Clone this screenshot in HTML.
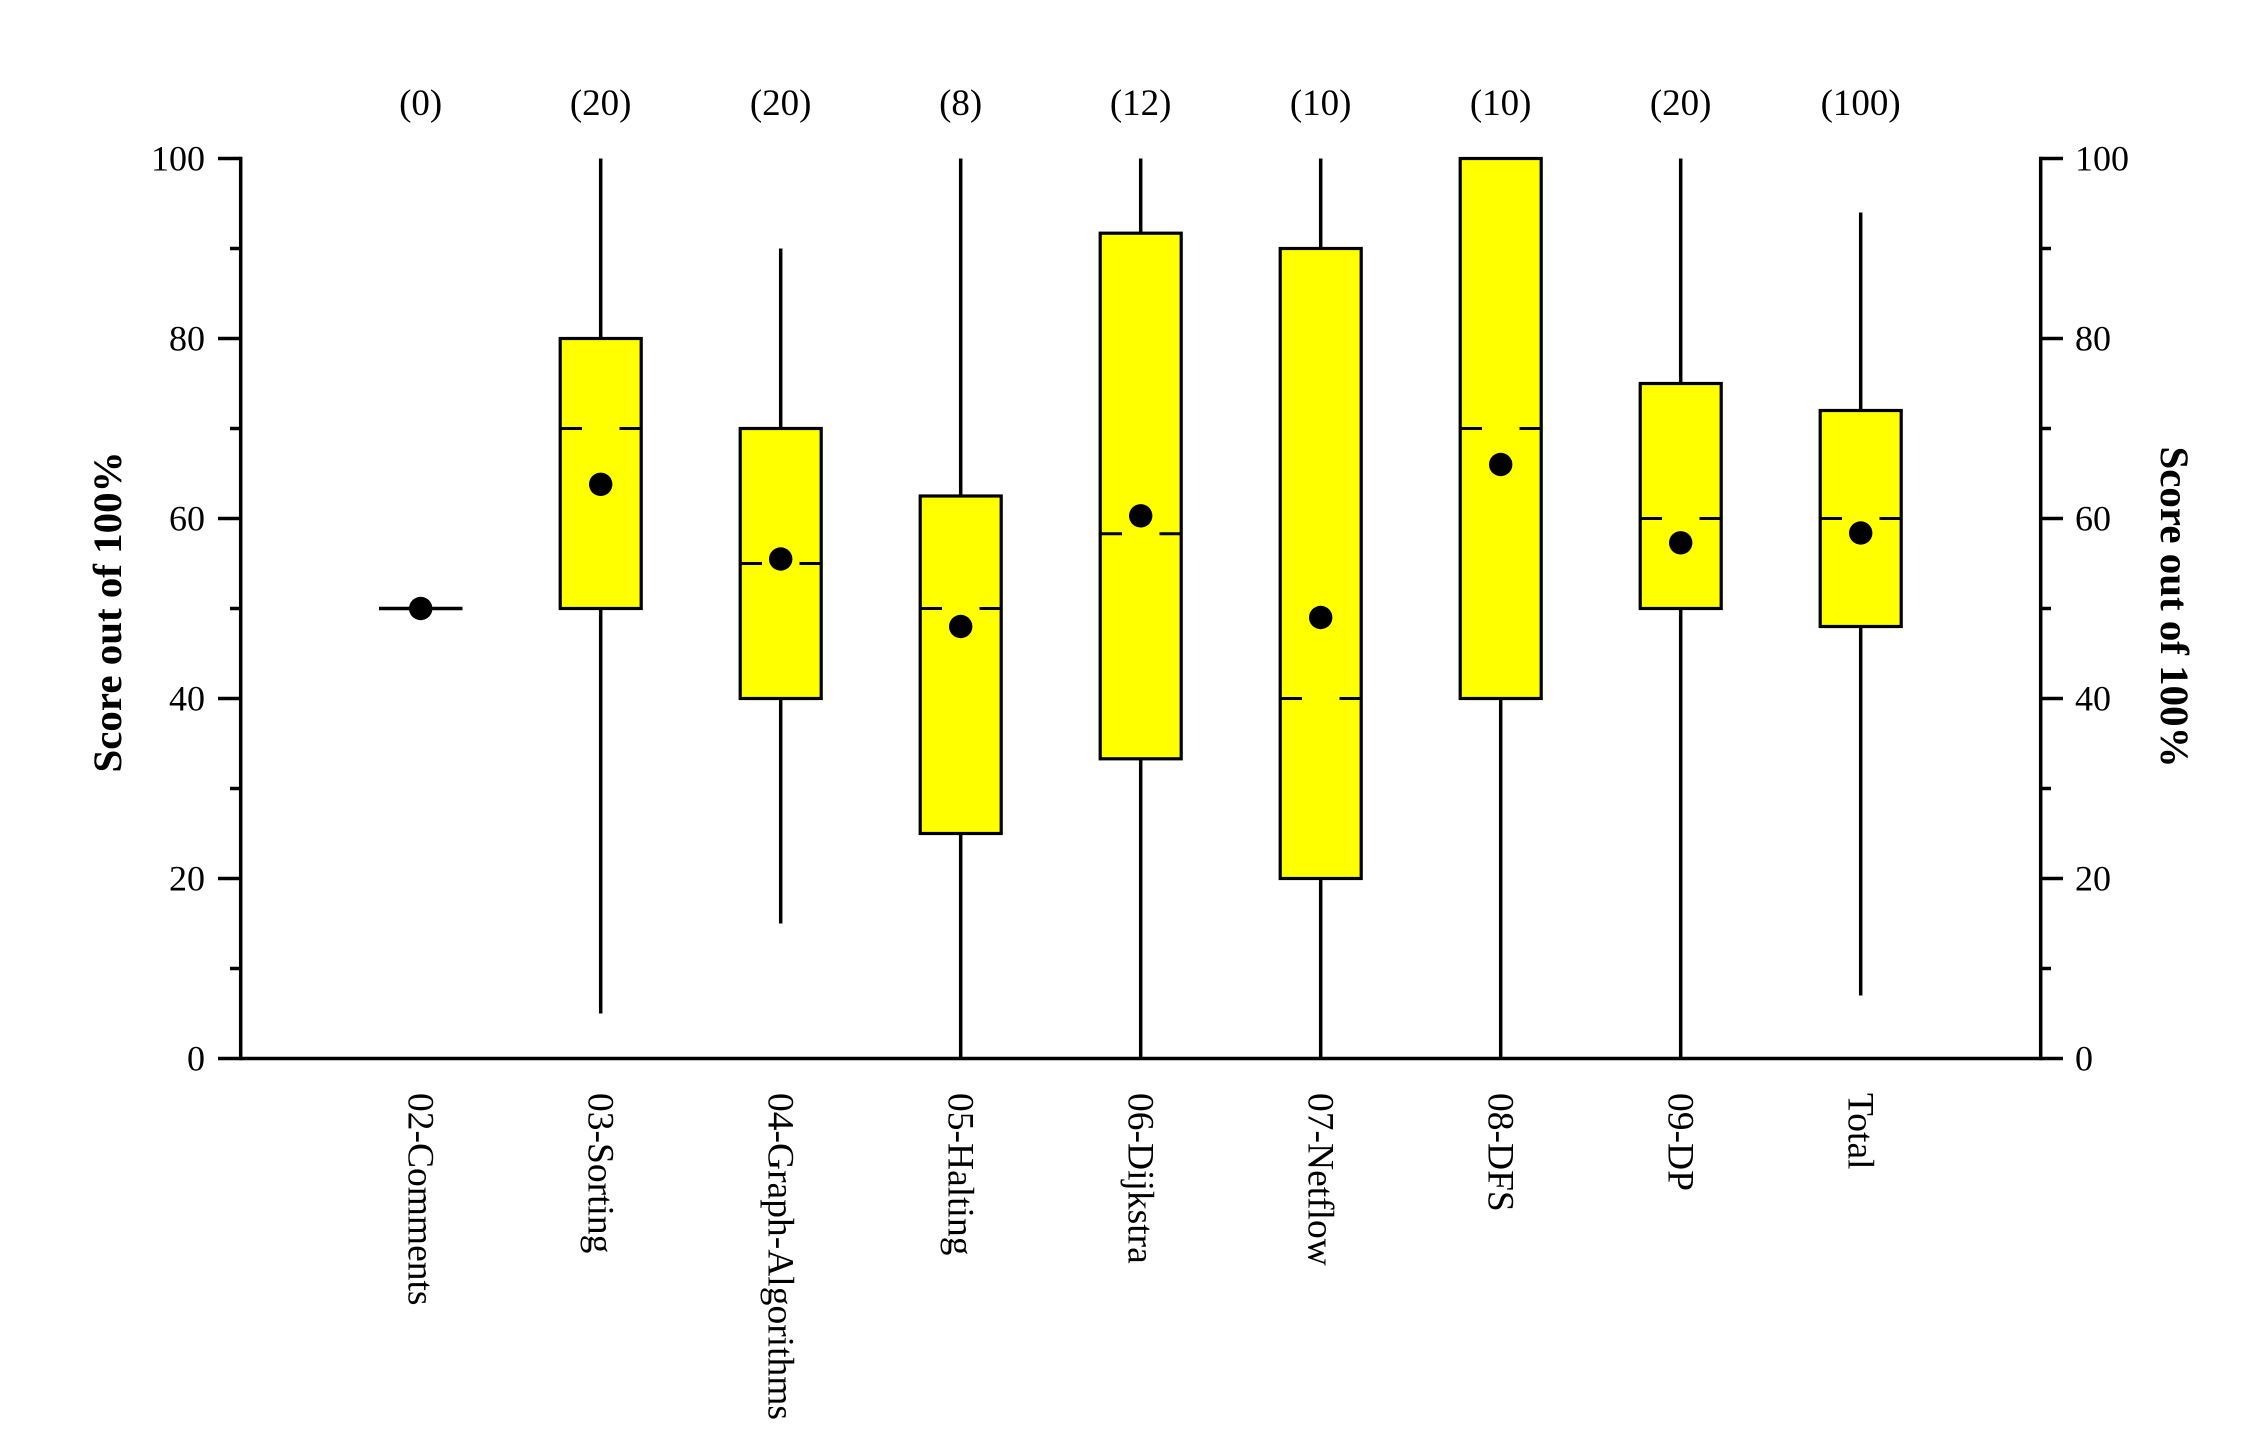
<!DOCTYPE html>
<html>
<head>
<meta charset="utf-8">
<style>
  html, body { margin:0; padding:0; background:#ffffff; }
  svg { display:block; }
  text { font-family: "Liberation Serif", "Times New Roman", serif; fill:#000; }
</style>
</head>
<body>
<svg width="2242" height="1444" viewBox="0 0 2242 1444" xmlns="http://www.w3.org/2000/svg">
  <rect x="0" y="0" width="2242" height="1444" fill="#ffffff"/>

  <!-- Axes -->
  <g stroke="#000" stroke-width="3.5" fill="none" stroke-linecap="butt">
    <line x1="240.7" y1="156.8" x2="240.7" y2="1060.2"/>
    <line x1="2040.7" y1="156.8" x2="2040.7" y2="1060.2"/>
    <line x1="218" y1="1058.5" x2="2063" y2="1058.5"/>
    <line x1="218" y1="158.5" x2="240.7" y2="158.5"/>
    <line x1="218" y1="338.5" x2="240.7" y2="338.5"/>
    <line x1="218" y1="518.5" x2="240.7" y2="518.5"/>
    <line x1="218" y1="698.5" x2="240.7" y2="698.5"/>
    <line x1="218" y1="878.5" x2="240.7" y2="878.5"/>
    <line x1="230" y1="248.5" x2="240.7" y2="248.5"/>
    <line x1="230" y1="428.5" x2="240.7" y2="428.5"/>
    <line x1="230" y1="608.5" x2="240.7" y2="608.5"/>
    <line x1="230" y1="788.5" x2="240.7" y2="788.5"/>
    <line x1="230" y1="968.5" x2="240.7" y2="968.5"/>
    <line x1="2040.7" y1="158.5" x2="2063" y2="158.5"/>
    <line x1="2040.7" y1="338.5" x2="2063" y2="338.5"/>
    <line x1="2040.7" y1="518.5" x2="2063" y2="518.5"/>
    <line x1="2040.7" y1="698.5" x2="2063" y2="698.5"/>
    <line x1="2040.7" y1="878.5" x2="2063" y2="878.5"/>
    <line x1="2040.7" y1="248.5" x2="2051" y2="248.5"/>
    <line x1="2040.7" y1="428.5" x2="2051" y2="428.5"/>
    <line x1="2040.7" y1="608.5" x2="2051" y2="608.5"/>
    <line x1="2040.7" y1="788.5" x2="2051" y2="788.5"/>
    <line x1="2040.7" y1="968.5" x2="2051" y2="968.5"/>
  </g>

  <!-- Left tick labels -->
  <g font-size="36" text-anchor="end">
    <text x="205" y="170.5">100</text>
    <text x="205" y="350.5">80</text>
    <text x="205" y="530.5">60</text>
    <text x="205" y="710.5">40</text>
    <text x="205" y="890.5">20</text>
    <text x="205" y="1070.5">0</text>
  </g>
  <!-- Right tick labels -->
  <g font-size="36" text-anchor="start">
    <text x="2075" y="170.5">100</text>
    <text x="2075" y="350.5">80</text>
    <text x="2075" y="530.5">60</text>
    <text x="2075" y="710.5">40</text>
    <text x="2075" y="890.5">20</text>
    <text x="2075" y="1070.5">0</text>
  </g>

  <!-- Axis titles -->
  <text transform="translate(121,612) rotate(-90)" font-size="40" font-weight="bold" text-anchor="middle" textLength="321" lengthAdjust="spacingAndGlyphs">Score out of 100%</text>
  <text transform="translate(2161,607) rotate(90)" font-size="40" font-weight="bold" text-anchor="middle" textLength="321" lengthAdjust="spacingAndGlyphs">Score out of 100%</text>

  <!-- Top count labels -->
  <g font-size="37" text-anchor="middle">
    <text x="420.7" y="115">(0)</text>
    <text x="600.7" y="115">(20)</text>
    <text x="780.7" y="115">(20)</text>
    <text x="960.7" y="115">(8)</text>
    <text x="1140.7" y="115">(12)</text>
    <text x="1320.7" y="115">(10)</text>
    <text x="1500.7" y="115">(10)</text>
    <text x="1680.7" y="115">(20)</text>
    <text x="1860.7" y="115">(100)</text>
  </g>

  <!-- Category labels (rotated) -->
  <g font-size="37.5" text-anchor="start">
    <text transform="translate(408.5,1093) rotate(90)">02-Comments</text>
    <text transform="translate(588.5,1093) rotate(90)">03-Sorting</text>
    <text transform="translate(768.5,1093) rotate(90)">04-Graph-Algorithms</text>
    <text transform="translate(948.5,1093) rotate(90)">05-Halting</text>
    <text transform="translate(1128.5,1093) rotate(90)">06-Dijkstra</text>
    <text transform="translate(1308.5,1093) rotate(90)">07-Netflow</text>
    <text transform="translate(1488.5,1093) rotate(90)">08-DFS</text>
    <text transform="translate(1668.5,1093) rotate(90)">09-DP</text>
    <text transform="translate(1848.5,1093) rotate(90)">Total</text>
  </g>

  <!-- Whiskers -->
  <g stroke="#000" stroke-width="3.5">
    <line x1="600.7" y1="1013.5" x2="600.7" y2="608.5"/>
    <line x1="600.7" y1="338.5" x2="600.7" y2="158.5"/>
    <line x1="780.7" y1="923.5" x2="780.7" y2="698.5"/>
    <line x1="780.7" y1="428.5" x2="780.7" y2="248.5"/>
    <line x1="960.7" y1="1058.5" x2="960.7" y2="833.5"/>
    <line x1="960.7" y1="496" x2="960.7" y2="158.5"/>
    <line x1="1140.7" y1="1058.5" x2="1140.7" y2="758.8"/>
    <line x1="1140.7" y1="233.2" x2="1140.7" y2="158.5"/>
    <line x1="1320.7" y1="1058.5" x2="1320.7" y2="878.5"/>
    <line x1="1320.7" y1="248.5" x2="1320.7" y2="158.5"/>
    <line x1="1500.7" y1="1058.5" x2="1500.7" y2="698.5"/>
    <line x1="1680.7" y1="1058.5" x2="1680.7" y2="608.5"/>
    <line x1="1680.7" y1="383.5" x2="1680.7" y2="158.5"/>
    <line x1="1860.7" y1="995.5" x2="1860.7" y2="626.5"/>
    <line x1="1860.7" y1="410.5" x2="1860.7" y2="212.5"/>
  </g>

  <!-- Boxes -->
  <g stroke="#000" stroke-width="3.2" fill="#ffff00">
    <rect x="560.2" y="338.5" width="81" height="270"/>
    <rect x="740.2" y="428.5" width="81" height="270"/>
    <rect x="920.2" y="496" width="81" height="337.5"/>
    <rect x="1100.2" y="233.2" width="81" height="525.6"/>
    <rect x="1280.2" y="248.5" width="81" height="630"/>
    <rect x="1460.2" y="158.5" width="81" height="540"/>
    <rect x="1640.2" y="383.5" width="81" height="225"/>
    <rect x="1820.2" y="410.5" width="81" height="216"/>
  </g>

  <!-- 02-Comments flat box line -->
  <line x1="379" y1="608.5" x2="462.5" y2="608.5" stroke="#000" stroke-width="3.5"/>

  <!-- Median split dashes -->
  <g stroke="#000" stroke-width="3">
    <line x1="560.2" y1="428.5" x2="582" y2="428.5"/><line x1="619.5" y1="428.5" x2="641.2" y2="428.5"/>
    <line x1="740.2" y1="563.5" x2="762" y2="563.5"/><line x1="799.5" y1="563.5" x2="821.2" y2="563.5"/>
    <line x1="920.2" y1="608.5" x2="942" y2="608.5"/><line x1="979.5" y1="608.5" x2="1001.2" y2="608.5"/>
    <line x1="1100.2" y1="533.8" x2="1122" y2="533.8"/><line x1="1159.5" y1="533.8" x2="1181.2" y2="533.8"/>
    <line x1="1280.2" y1="698.5" x2="1302" y2="698.5"/><line x1="1339.5" y1="698.5" x2="1361.2" y2="698.5"/>
    <line x1="1460.2" y1="428.5" x2="1482" y2="428.5"/><line x1="1519.5" y1="428.5" x2="1541.2" y2="428.5"/>
    <line x1="1640.2" y1="518.5" x2="1662" y2="518.5"/><line x1="1699.5" y1="518.5" x2="1721.2" y2="518.5"/>
    <line x1="1820.2" y1="518.5" x2="1842" y2="518.5"/><line x1="1879.5" y1="518.5" x2="1901.2" y2="518.5"/>
  </g>

  <!-- Mean dots -->
  <g fill="#000">
    <circle cx="420.7" cy="608.5" r="11.7"/>
    <circle cx="600.7" cy="484.3" r="11.7"/>
    <circle cx="780.7" cy="559" r="11.7"/>
    <circle cx="960.7" cy="626.5" r="11.7"/>
    <circle cx="1140.7" cy="515.8" r="11.7"/>
    <circle cx="1320.7" cy="617.5" r="11.7"/>
    <circle cx="1500.7" cy="464.5" r="11.7"/>
    <circle cx="1680.7" cy="542.8" r="11.7"/>
    <circle cx="1860.7" cy="533" r="11.7"/>
  </g>
</svg>
</body>
</html>
